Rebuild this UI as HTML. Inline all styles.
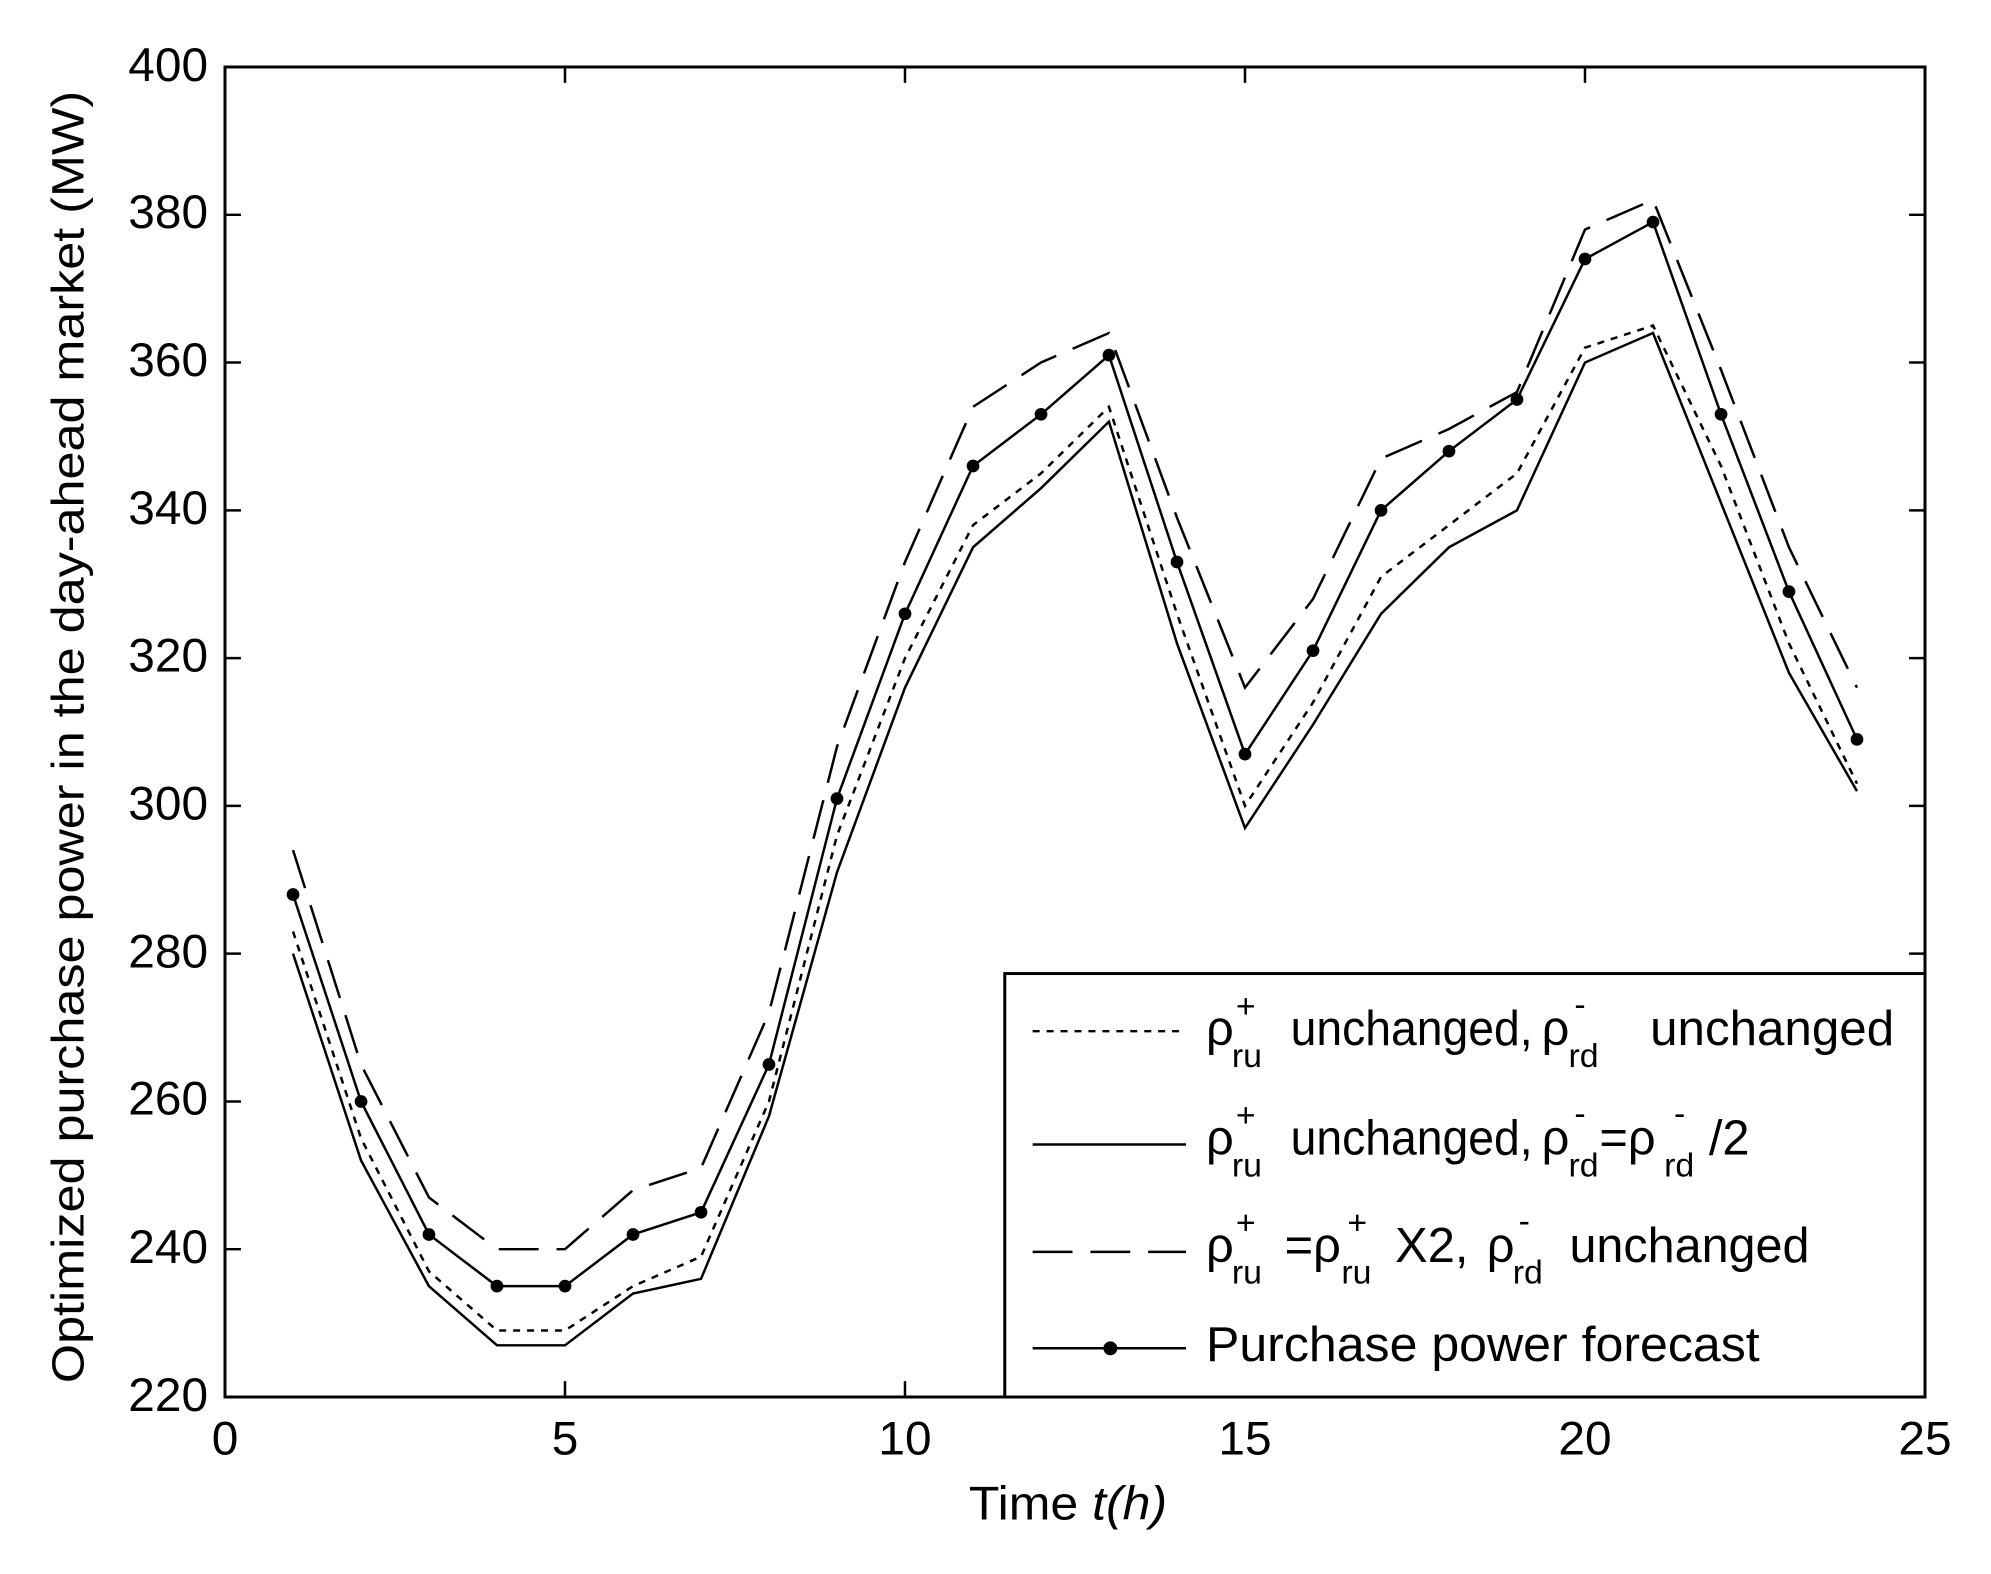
<!DOCTYPE html>
<html><head><meta charset="utf-8"><style>
html,body{margin:0;padding:0;background:#fff;}
svg text{font-family:"Liberation Sans",Arial,sans-serif;fill:#000;}
</style></head><body>
<svg width="1991" height="1569" viewBox="0 0 1991 1569" xmlns="http://www.w3.org/2000/svg">
<defs>
<marker id="m" viewBox="-10 -10 20 20" markerWidth="16" markerHeight="16" markerUnits="userSpaceOnUse" refX="0" refY="0"><circle cx="0" cy="0" r="8" fill="#000"/></marker>
</defs>
<rect width="1991" height="1569" fill="#fff"/>
<g transform="matrix(0.9959,0,0,0.99402,0.92,1.39)">
<g fill="none" stroke="#000" stroke-width="2.5">
<polyline stroke-dasharray="7,7" points="293.3,935.7 361.6,1143.8 429.8,1277.6 498.1,1337.1 566.4,1337.1 634.7,1292.5 703,1262.8 771.2,1106.7 839.5,839.1 907.8,660.7 976.1,526.9 1044.4,474.8 1112.6,407.9 1180.9,616.1 1249.2,809.3 1317.5,705.3 1385.8,578.9 1454,526.9 1522.3,474.8 1590.6,348.4 1658.9,326.1 1727.2,467.4 1795.4,645.8 1863.7,787"/>
<polyline points="293.3,958 361.6,1166.1 429.8,1292.5 498.1,1352 566.4,1352 634.7,1299.9 703,1285.1 771.2,1121.5 839.5,876.2 907.8,690.4 976.1,549.2 1044.4,489.7 1112.6,422.8 1180.9,645.8 1249.2,831.6 1317.5,727.6 1385.8,616.1 1454,549.2 1522.3,512 1590.6,363.3 1658.9,333.6 1727.2,504.6 1795.4,675.5 1863.7,794.5"/>
<polyline stroke-dasharray="40,18" points="293.3,853.9 361.6,1069.5 429.8,1203.3 498.1,1255.3 566.4,1255.3 634.7,1195.9 703,1173.6 771.2,1017.5 839.5,749.9 907.8,564 976.1,407.9 1044.4,363.3 1112.6,333.6 1180.9,519.4 1249.2,690.4 1317.5,601.2 1385.8,460 1454,430.2 1522.3,393 1590.6,229.5 1658.9,199.7 1727.2,370.7 1795.4,549.2 1863.7,690.4"/>
<polyline marker-start="url(#m)" marker-mid="url(#m)" marker-end="url(#m)" points="293.3,898.5 361.6,1106.7 429.8,1240.5 498.1,1292.5 566.4,1292.5 634.7,1240.5 703,1218.2 771.2,1069.5 839.5,802 907.8,616.1 976.1,467.4 1044.4,415.4 1112.6,355.9 1180.9,564 1249.2,757.3 1317.5,653.2 1385.8,512 1454,452.5 1522.3,400.5 1590.6,259.2 1658.9,222 1727.2,415.4 1795.4,593.8 1863.7,742.4"/>
</g>
<rect x="225" y="66" width="1707" height="1338" fill="none" stroke="#000" stroke-width="3"/>
<g stroke="#000" stroke-width="2.5">
<path d="M566.4,1404v-16M907.8,1404v-16M1249.2,1404v-16M1590.6,1404v-16M566.4,66v16M907.8,66v16M1249.2,66v16M1590.6,66v16"/>
<path d="M225,1255.3h16M225,1106.7h16M225,958h16M225,809.3h16M225,660.7h16M225,512h16M225,363.3h16M225,214.7h16M1932,1255.3h-16M1932,1106.7h-16M1932,958h-16M1932,809.3h-16M1932,660.7h-16M1932,512h-16M1932,363.3h-16M1932,214.7h-16"/>
</g>
<g font-size="48" text-anchor="middle">
<text x="225" y="1462">0</text><text x="566.4" y="1462">5</text><text x="907.8" y="1462">10</text><text x="1249.2" y="1462">15</text><text x="1590.6" y="1462">20</text><text x="1932" y="1462">25</text>
</g>
<g font-size="48" text-anchor="end">
<text x="208" y="1418">220</text><text x="208" y="1269">240</text><text x="208" y="1120">260</text><text x="208" y="972">280</text><text x="208" y="823">300</text><text x="208" y="674">320</text><text x="208" y="526">340</text><text x="208" y="377">360</text><text x="208" y="228">380</text><text x="208" y="80">400</text>
</g>
<text x="972" y="1527" font-size="48" textLength="199" lengthAdjust="spacingAndGlyphs">Time <tspan font-style="italic">t(h)</tspan></text>
<text transform="translate(83,740) rotate(-90)" x="0" y="0" font-size="46" text-anchor="middle" textLength="1300" lengthAdjust="spacingAndGlyphs">Optimized purchase power in the day-ahead market (MW)</text>
<rect x="1008" y="978" width="924" height="426" fill="#fff" stroke="#000" stroke-width="3"/>
<g stroke="#000" stroke-width="2.5">
<line x1="1036" y1="1036" x2="1190" y2="1036" stroke-dasharray="7,7"/>
<line x1="1036" y1="1150" x2="1190" y2="1150"/>
<line x1="1036" y1="1258" x2="1190" y2="1258" stroke-dasharray="40,18"/>
<line x1="1036" y1="1355" x2="1190" y2="1355"/>
</g>
<circle cx="1114" cy="1355" r="7" fill="#000"/>
<g font-size="49">
<text x="1210" y="1050">ρ</text><text x="1240" y="1022" font-size="34">+</text><text x="1236" y="1072" font-size="34">ru</text>
<text x="1295" y="1050" textLength="243" lengthAdjust="spacingAndGlyphs">unchanged,</text>
<text x="1547" y="1050">ρ</text><text x="1580" y="1020" font-size="34">-</text><text x="1574" y="1072" font-size="34">rd</text>
<text x="1656" y="1050" textLength="245" lengthAdjust="spacingAndGlyphs">unchanged</text>
<text x="1210" y="1160">ρ</text><text x="1240" y="1132" font-size="34">+</text><text x="1236" y="1182" font-size="34">ru</text>
<text x="1295" y="1160" textLength="243" lengthAdjust="spacingAndGlyphs">unchanged,</text>
<text x="1547" y="1160">ρ</text><text x="1580" y="1130" font-size="34">-</text><text x="1574" y="1182" font-size="34">rd</text>
<text x="1605" y="1160">=ρ</text><text x="1680" y="1130" font-size="34">-</text><text x="1670" y="1182" font-size="34">rd</text>
<text x="1715" y="1160">/2</text>
<text x="1210" y="1268">ρ</text><text x="1240" y="1240" font-size="34">+</text><text x="1236" y="1290" font-size="34">ru</text>
<text x="1289" y="1268">=ρ</text><text x="1352" y="1240" font-size="34">+</text><text x="1346" y="1290" font-size="34">ru</text>
<text x="1400" y="1268">X2,</text>
<text x="1492" y="1268">ρ</text><text x="1524" y="1238" font-size="34">-</text><text x="1518" y="1290" font-size="34">rd</text>
<text x="1575" y="1268" textLength="241" lengthAdjust="spacingAndGlyphs">unchanged</text>
<text x="1210" y="1368" textLength="556" lengthAdjust="spacingAndGlyphs">Purchase power forecast</text>
</g>
</g>
</svg>
</body></html>
